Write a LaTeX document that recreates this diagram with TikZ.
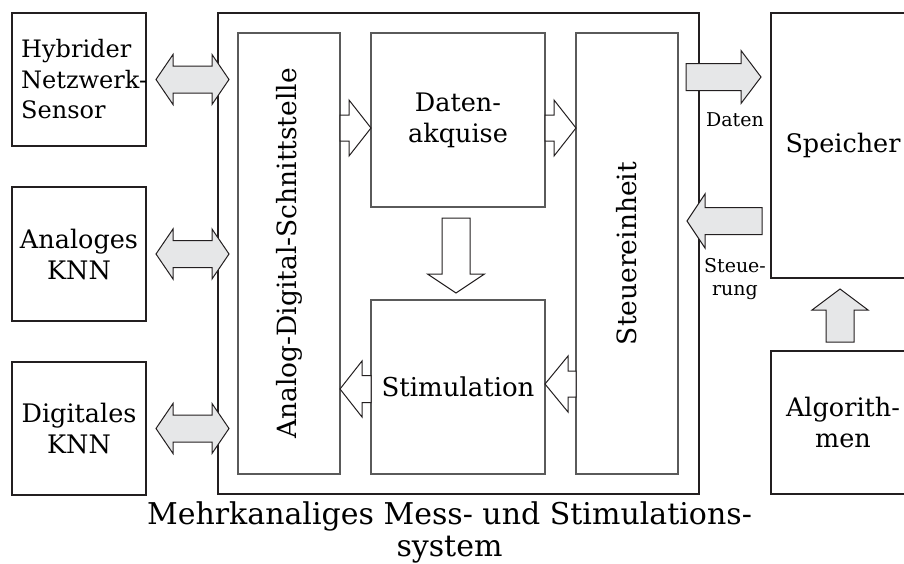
\documentclass[tikz,border=0pt]{standalone}
\usepackage{fontspec}
\setmainfont{DejaVu Serif}
\usetikzlibrary{calc}

\definecolor{ink}{HTML}{231F20}
\definecolor{framegray}{HTML}{5A5A5A}
\definecolor{arrowfill}{HTML}{E6E7E8}

\tikzset{
  boxfont/.style={font=\fontsize{25.5}{31}\selectfont},
  outerbox/.style={draw=ink, line width=2pt, inner sep=0pt, outer sep=0pt,
                   align=center, boxfont},
  innerbox/.style={draw=framegray, line width=1.1pt, inner sep=0pt, outer sep=0pt,
                   align=center, boxfont},
  vtext/.style={rotate=90, inner sep=0pt, font=\fontsize{26.5}{31}\selectfont},
  grayarrow/.style={draw=ink, line width=1pt, fill=arrowfill, line join=miter},
  whitearrow/.style={draw=ink, line width=1pt, fill=white, line join=miter},
  smalllabel/.style={font=\fontsize{19}{23}\selectfont, align=center, inner sep=0pt},
  caption/.style={font=\fontsize{30}{32}\selectfont, align=center, inner sep=0pt},
}

% block arrow from tail #2 to tip #3; #4 head length, #5 half shaft, #6 half head
\newcommand{\BlockArrow}[6]{%
  \path #2 coordinate (ba-a) #3 coordinate (ba-b);
  \path ($(ba-b)!#4!(ba-a)$) coordinate (ba-c);
  \draw[#1] ($(ba-a)!#5!90:(ba-b)$) -- ($(ba-c)!#5!90:(ba-b)$)
    -- ($(ba-c)!#6!90:(ba-b)$) -- (ba-b) -- ($(ba-c)!#6!-90:(ba-b)$)
    -- ($(ba-c)!#5!-90:(ba-b)$) -- ($(ba-a)!#5!-90:(ba-b)$) -- cycle;}

% double block arrow between tips #2 and #3
\newcommand{\DoubleBlockArrow}[6]{%
  \path #2 coordinate (da-a) #3 coordinate (da-b);
  \path ($(da-a)!#4!(da-b)$) coordinate (da-c) ($(da-b)!#4!(da-a)$) coordinate (da-d);
  \draw[#1] (da-a) -- ($(da-c)!#6!90:(da-b)$) -- ($(da-c)!#5!90:(da-b)$)
    -- ($(da-d)!#5!-90:(da-a)$) -- ($(da-d)!#6!-90:(da-a)$) -- (da-b)
    -- ($(da-d)!#6!90:(da-a)$) -- ($(da-d)!#5!90:(da-a)$)
    -- ($(da-c)!#5!-90:(da-b)$) -- ($(da-c)!#6!-90:(da-b)$) -- cycle;}

\begin{document}
\begin{tikzpicture}[x=1pt, y=-1pt]
\useasboundingbox (0,0) rectangle (904,563);

% outer blocks
\node[outerbox, minimum width=134pt, minimum height=133pt] (hyb) at (79,79.5) {};
\node[anchor=west, inner sep=0pt, align=left, font=\fontsize{24}{30.5}\selectfont]
  (hybtext) at ($(hyb.west)+(9,0)$) {Hybrider\\Netzwerk-\\Sensor};
\node[outerbox, minimum width=134pt, minimum height=134pt] (ana) at (79,254) {Analoges\\KNN};
\node[outerbox, minimum width=134pt, minimum height=133pt] (dig) at (79,428.5) {Digitales\\KNN};
\node[outerbox, minimum width=481pt, minimum height=481pt] (mss) at (458.5,253.5) {};
\node[outerbox, minimum width=144pt, minimum height=265pt] (spe) at (843,145.5) {Speicher};
\node[outerbox, minimum width=144pt, minimum height=143pt] (alg) at (843,422.5) {Algorith-\\men};

% inner blocks of the measuring system
\node[innerbox, minimum width=102pt, minimum height=441pt] (ads) at (289,253.5) {};
\node[vtext] (adstext) at (ads.center) {Analog-Digital-Schnittstelle};
\node[innerbox, minimum width=174pt, minimum height=174pt] (dat) at (458,120) {Daten-\\akquise};
\node[innerbox, minimum width=174pt, minimum height=174pt, font=\fontsize{26}{31}\selectfont]
  (sti) at (458,387) {Stimulation};
\node[innerbox, minimum width=102pt, minimum height=441pt] (ste) at (627,253.5) {};
\node[vtext] (stetext) at (ste.center) {Steuereinheit};

% caption
\node[caption, anchor=north] (cap) at ($(mss.south)+(-9,7)$)
  {Mehrkanaliges Mess- und Stimulations-\\system};

% bidirectional links to the sensor and networks
\DoubleBlockArrow{grayarrow}{($(hyb.east)+(10,0)$)}{($(mss.west |- hyb.east)+(11,0)$)}{17pt}{13.5pt}{25pt}
\DoubleBlockArrow{grayarrow}{($(ana.east)+(10,0)$)}{($(mss.west |- ana.east)+(11,0)$)}{17pt}{13.5pt}{25pt}
\DoubleBlockArrow{grayarrow}{($(dig.east)+(10,0)$)}{($(mss.west |- dig.east)+(11,0)$)}{17pt}{13.5pt}{25pt}

% internal data flow
\BlockArrow{whitearrow}{($(ads.east |- dat.west)+(0,8)$)}{($(dat.west)+(0,8)$)}{22pt}{13pt}{28pt}
\BlockArrow{whitearrow}{($(dat.east)+(0,8)$)}{($(ste.west |- dat.east)+(0,8)$)}{22pt}{13pt}{28pt}
\BlockArrow{whitearrow}{($(dat.south)+(-2,11)$)}{($(sti.north)+(-2,-7)$)}{19pt}{14pt}{28.5pt}
\BlockArrow{whitearrow}{($(sti.west)+(0,2)$)}{($(ads.east |- sti.west)+(0,2)$)}{22pt}{13.5pt}{28pt}
\BlockArrow{whitearrow}{($(ste.west |- sti.east)+(0,-3)$)}{($(sti.east)+(0,-3)$)}{23pt}{13pt}{28pt}

% links to memory and algorithms
\BlockArrow{grayarrow}{($(mss.north east)+(-13,64)$)}{($(spe.north west)+(-10,64)$)}{20pt}{13.5pt}{26.5pt}
\BlockArrow{grayarrow}{($(spe.north west)+(-9,208)$)}{($(mss.north east)+(-12,208)$)}{18pt}{13.5pt}{27pt}
\BlockArrow{grayarrow}{($(alg.north)+(-3,-9)$)}{($(spe.south)+(-3,11)$)}{21pt}{14pt}{28pt}

\node[smalllabel] (datlbl) at ($(spe.north west)+(-36,107)$) {Daten};
\node[smalllabel] (stlbl) at ($(spe.north west)+(-36,266)$) {Steue-\\rung};
\end{tikzpicture}
\end{document}
